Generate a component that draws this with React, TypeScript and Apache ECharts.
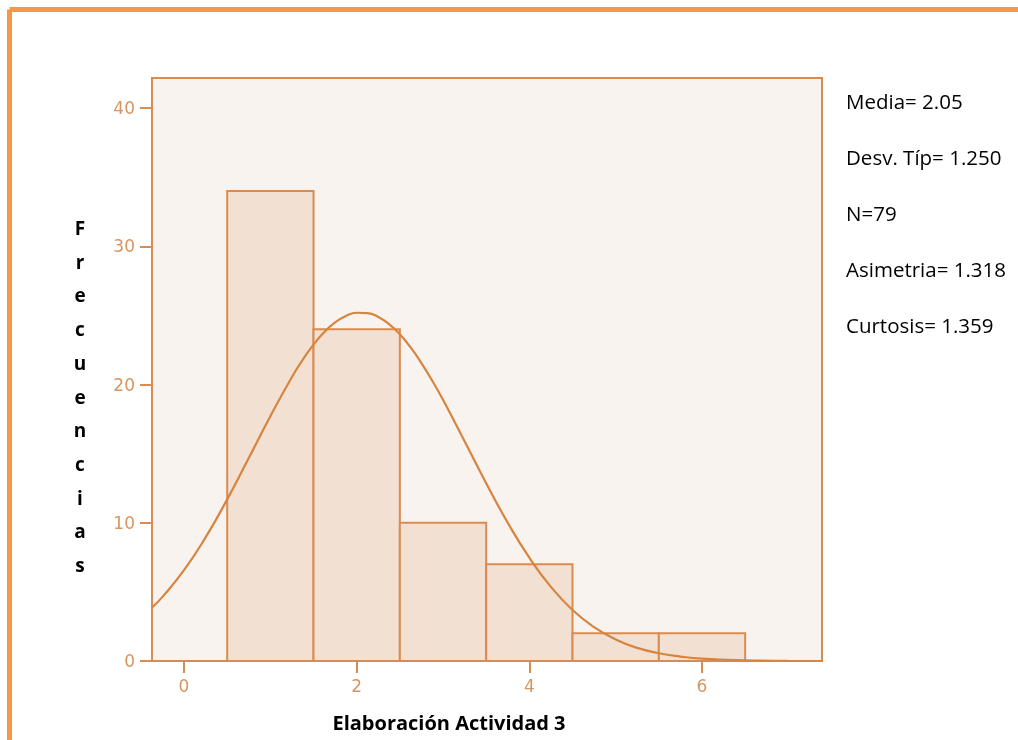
import React, { useEffect, useRef } from "react";
import * as echarts from "echarts";

// Histogram bins: [lower edge, upper edge, frequency]
const binLower = [0.5, 1.5, 2.5, 3.5, 4.5, 5.5];
const binUpper = [1.5, 2.5, 3.5, 4.5, 5.5, 6.5];
const frequencies = [34, 24, 10, 7, 2, 2];

// Normal curve points
const curveX = [-0.37, -0.25, 0, 0.25, 0.5, 0.75, 1, 1.25, 1.375, 1.5, 1.625, 1.75, 1.875, 2, 2.125, 2.25, 2.375, 2.5, 2.625, 2.75, 2.875, 3, 3.25, 3.5, 3.75, 4, 4.25, 4.5, 4.75, 5, 5.25, 5.5, 5.75, 6, 6.5, 7, 7.39];
const curveY = [3.87, 4.64, 6.57, 8.94, 11.69, 14.68, 17.71, 20.54, 21.79, 22.88, 23.79, 24.49, 24.96, 25.19, 25.16, 24.89, 24.37, 23.63, 22.68, 21.55, 20.28, 18.89, 15.9, 12.86, 10.0, 7.47, 5.36, 3.69, 2.45, 1.56, 0.95, 0.56, 0.32, 0.17, 0.05, 0.01, 0.0];

const xTicks = [0, 2, 4, 6];
const statLines = ["Media= 2.05", "Desv. Típ= 1.250", "N=79", "Asimetria= 1.318", "Curtosis= 1.359"];
const yTitle = "Frecuencias";
const xTitle = "Elaboración Actividad 3";

export default function App() {
  const ref = useRef<HTMLDivElement>(null);
  useEffect(() => {
    if (!ref.current) return;
    const chart = echarts.init(ref.current, null, { renderer: "svg" });
    const axisColor = "#D98C52";
    const labelColor = "#D9955F";
    const histData = binLower.map((lo, i) => [lo, binUpper[i], frequencies[i]]);
    const curveData = curveX.map((x, i) => [x, curveY[i]]);

    const graphics: any[] = [
      { type: "line", shape: { x1: 9.5, y1: 9.5, x2: 1018, y2: 9.5 }, style: { stroke: "#F79646", lineWidth: 5 }, z: 10 },
      { type: "line", shape: { x1: 9.5, y1: 9.5, x2: 9.5, y2: 740 }, style: { stroke: "#F79646", lineWidth: 5 }, z: 10 },
    ];
    statLines.forEach((t, i) => {
      graphics.push({
        type: "text",
        x: 846,
        y: 101 + i * 56,
        style: { text: t, fill: "#000", font: "20.5px 'Open Sans', sans-serif", textVerticalAlign: "middle" },
      });
    });
    yTitle.split("").forEach((c, i) => {
      graphics.push({
        type: "text",
        x: 80,
        y: 228 + i * 33.7,
        style: { text: c, fill: "#000", font: "bold 19px 'Open Sans', sans-serif", textAlign: "center", textVerticalAlign: "middle" },
      });
    });
    graphics.push({
      type: "text",
      x: 449,
      y: 722,
      style: { text: xTitle, fill: "#000", font: "bold 20px 'Open Sans', sans-serif", textAlign: "center", textVerticalAlign: "middle" },
    });

    chart.setOption({
      animation: false,
      grid: {
        left: 152,
        top: 78,
        width: 670,
        height: 583,
        show: true,
        backgroundColor: "#F9F3EF",
        borderColor: axisColor,
        borderWidth: 2,
      },
      xAxis: {
        type: "value",
        min: -0.371,
        max: 7.39,
        splitLine: { show: false },
        axisLine: { show: false, onZero: false },
        axisTick: { show: true, length: 12, lineStyle: { color: axisColor, width: 2 }, customValues: xTicks },
        axisLabel: { color: labelColor, fontSize: 17, margin: 16, fontFamily: "'DejaVu Sans', sans-serif", customValues: xTicks },
      },
      yAxis: {
        type: "value",
        min: 0,
        max: 42.17,
        interval: 10,
        splitLine: { show: false },
        axisLine: { show: false, onZero: false },
        axisTick: { show: true, length: 12, lineStyle: { color: axisColor, width: 2 } },
        axisLabel: { color: labelColor, fontSize: 17, margin: 17, fontFamily: "'DejaVu Sans', sans-serif", showMaxLabel: false },
      },
      graphic: graphics,
      series: [
        {
          type: "custom",
          data: histData,
          encode: { x: [0, 1], y: 2 },
          renderItem: (params: any, api: any) => {
            const p0 = api.coord([api.value(0), api.value(2)]);
            const p1 = api.coord([api.value(1), 0]);
            return {
              type: "rect",
              shape: { x: p0[0], y: p0[1], width: p1[0] - p0[0], height: p1[1] - p0[1] },
              style: { fill: "#F2E0D2", stroke: axisColor, lineWidth: 2 },
            };
          },
          z: 2,
        },
        {
          type: "line",
          data: curveData,
          smooth: true,
          showSymbol: false,
          lineStyle: { color: "#D7843F", width: 2.2 },
          z: 3,
        },
      ],
    });
    return () => chart.dispose();
  }, []);
  return <div ref={ref} style={{ position: "fixed", left: 0, top: 0, width: 1018, height: 740 }} />;
}
